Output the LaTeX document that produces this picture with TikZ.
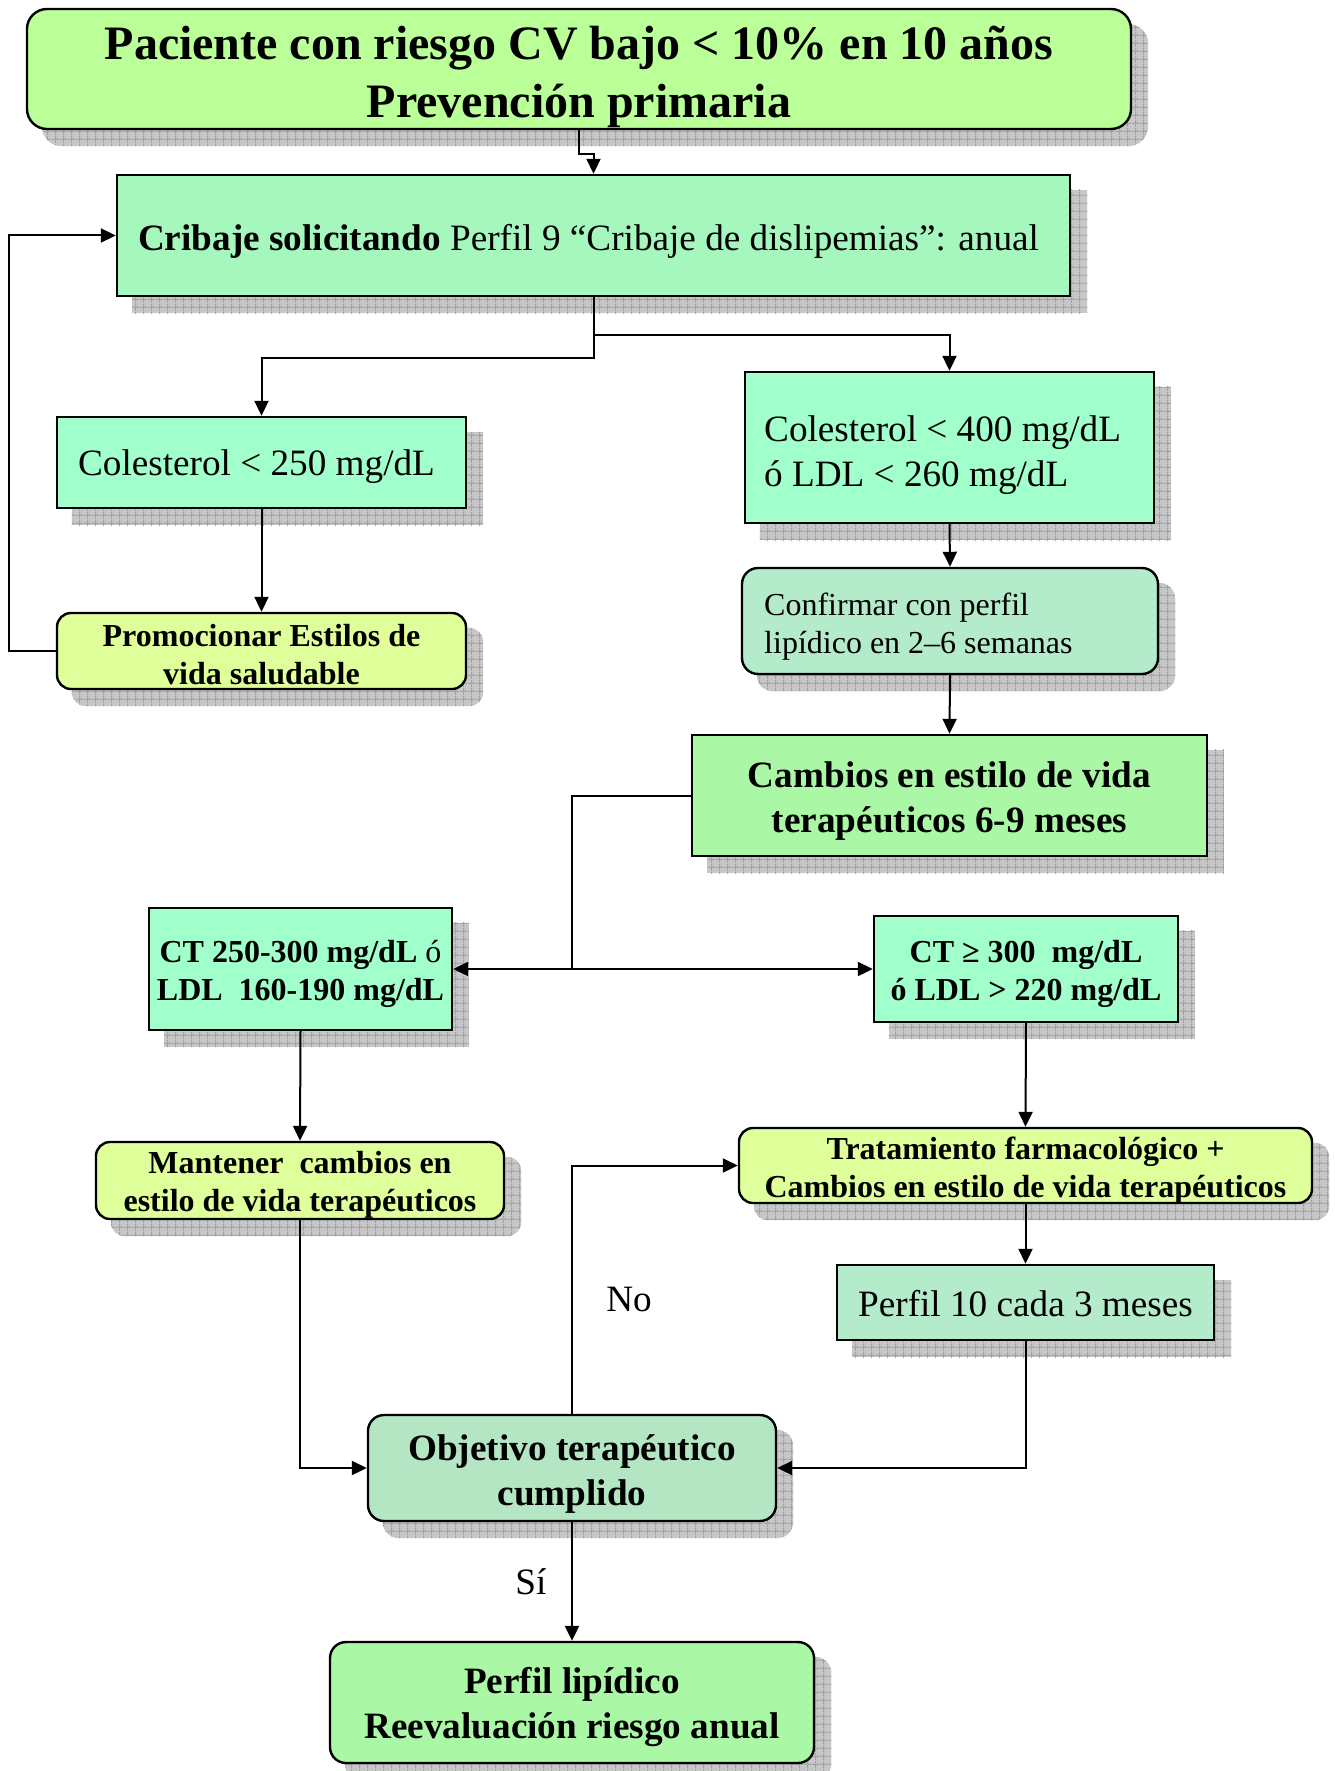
\documentclass[tikz,border=0pt]{standalone}
\usepackage{fontspec}
\setmainfont{Liberation Serif}
\usetikzlibrary{arrows.meta,patterns.meta}
\pgfdeclarelayer{bg}
\pgfsetlayers{bg,main}

% fills
\definecolor{cTitle}{RGB}{187,255,153}
\definecolor{cCrib}{RGB}{166,247,190}
\definecolor{cMint}{RGB}{160,255,202}
\definecolor{cLime}{RGB}{222,255,153}
\definecolor{cPale}{RGB}{179,235,203}
\definecolor{cGreen}{RGB}{170,247,165}
\definecolor{cGoal}{RGB}{181,230,196}

\newcommand\fbig{\fontsize{24}{29}\selectfont\bfseries}
\newcommand\fmid{\fontsize{18.6}{22.5}\selectfont}
\newcommand\fsmall{\fontsize{16}{19}\selectfont}

\tikzset{
  box/.style={draw, line width=1.2pt, inner sep=0pt},
  rbox/.style={box, rounded corners=7pt},
  txt/.style={inner sep=0pt, align=center},
  arr/.style={line width=1pt, -{Triangle[length=7.5pt,width=7pt]}},
  link/.style={line width=1pt},
  shadowfill/.style={preaction={fill=black!22}, pattern={Hatch[angle=0,distance=4pt,line width=0.5pt]}, pattern color=black!36},
  lbl/.style={font=\fmid, inner sep=0pt}
}

\begin{document}
\begin{tikzpicture}[x=0.5pt,y=-0.5pt]
\useasboundingbox (0,0) rectangle (1334,1771);

% boxes
\node[rbox, rounded corners=10pt, fill=cTitle, minimum width=552pt, minimum height=60pt] (title) at (579,69) {};
\node[box, fill=cCrib, minimum width=476.5pt, minimum height=60.5pt] (crib) at (593.5,235.5) {};
\node[box, fill=cMint, minimum width=204.5pt, minimum height=45.5pt] (c250) at (261.5,462.5) {};
\node[rbox, fill=cLime, minimum width=204.5pt, minimum height=38pt] (promo) at (261.5,651) {};
\node[box, fill=cMint, minimum width=204.5pt, minimum height=75.5pt] (c400) at (949.5,447.5) {};
\node[rbox, rounded corners=8pt, fill=cPale, minimum width=208pt, minimum height=53pt] (conf) at (950,621) {};
\node[box, fill=cGreen, minimum width=257.5pt, minimum height=60.5pt] (camb) at (949.5,795.5) {};
\node[box, fill=cMint, minimum width=151.5pt, minimum height=61pt] (ct250) at (300.5,969) {};
\node[box, fill=cMint, minimum width=152pt, minimum height=53pt] (ct300) at (1026,969) {};
\node[rbox, fill=cLime, minimum width=204pt, minimum height=38.5pt] (mant) at (300,1180.5) {};
\node[rbox, fill=cLime, minimum width=286.5pt, minimum height=37.5pt] (trat) at (1025.5,1165.5) {};
\node[box, fill=cPale, minimum width=188.5pt, minimum height=37.5pt] (p10) at (1025.5,1302.5) {};
\node[rbox, rounded corners=8pt, fill=cGoal, minimum width=204pt, minimum height=53pt] (obj) at (572,1468) {};
\node[rbox, rounded corners=8pt, fill=cGreen, minimum width=242pt, minimum height=60.5pt] (plip) at (572,1702.5) {};

% box texts
\node[txt, font=\fbig] (titleT) at ([yshift=-4pt]title.center)
  {Paciente con riesgo CV bajo < 10\% en 10 años\\Prevención primaria};
\node[txt, font=\fmid] (cribT) at ([xshift=-2.5pt,yshift=-2.8pt]crib.center)
  {\textbf{Cribaje solicitando} Perfil 9 “Cribaje de dislipemias”: anual};
\node[txt, font=\fmid] (c250T) at ([xshift=-2.5pt,yshift=-2.3pt]c250.center)
  {Colesterol < 250 mg/dL};
\node[txt, font=\fsmall\bfseries] (promoT) at ([yshift=-1.8pt]promo.center)
  {Promocionar Estilos de\\vida saludable};
\node[txt, align=left, anchor=west, font=\fmid] (c400T) at ([xshift=10pt,yshift=-3.8pt]c400.west)
  {Colesterol < 400 mg/dL\\ó LDL < 260 mg/dL};
\node[txt, align=left, anchor=west, font=\fsmall] (confT) at ([xshift=11.5pt,yshift=-3pt]conf.west)
  {Confirmar con perfil\\lipídico en 2–6 semanas};
\node[txt, font=\fmid\bfseries] (cambT) at ([yshift=-2.8pt]camb.center)
  {Cambios en estilo de vida\\terapéuticos 6-9 meses};
\node[txt, font=\fsmall\bfseries] (ct250T) at ([yshift=-2.3pt]ct250.center)
  {CT 250-300 mg/dL \textmd{ó}\\LDL\ \ 160-190 mg/dL};
\node[txt, font=\fsmall\bfseries] (ct300T) at ([yshift=-2.3pt]ct300.center)
  {CT ≥ 300\ \ mg/dL\\ó LDL > 220 mg/dL};
\node[txt, font=\fsmall\bfseries] (mantT) at ([yshift=-2.3pt]mant.center)
  {Mantener\ \ cambios en\\estilo de vida terapéuticos};
\node[txt, font=\fsmall\bfseries] (tratT) at ([yshift=-2.8pt]trat.center)
  {Tratamiento farmacológico +\\Cambios en estilo de vida terapéuticos};
\node[txt, font=\fmid] (p10T) at ([yshift=-0.6pt]p10.center)
  {Perfil 10 cada 3 meses};
\node[txt, font=\fmid\bfseries] (objT) at ([yshift=-2.8pt]obj.center)
  {Objetivo terapéutico\\cumplido};
\node[txt, font=\fmid\bfseries] (plipT) at ([yshift=-2.3pt]plip.center)
  {Perfil lipídico\\Reevaluación riesgo anual};

% drop shadows
\begin{pgfonlayer}{bg}
  \foreach \n in {crib,c250,c400,camb,ct250,ct300,p10}
    \path[shadowfill] ([shift={(16,16)}]\n.north west) rectangle ([shift={(16,16)}]\n.south east);
  \foreach \n in {promo,mant,trat}
    \path[shadowfill, rounded corners=7pt] ([shift={(16,16)}]\n.north west) rectangle ([shift={(16,16)}]\n.south east);
  \foreach \n in {conf,obj,plip}
    \path[shadowfill, rounded corners=8pt] ([shift={(16,16)}]\n.north west) rectangle ([shift={(16,16)}]\n.south east);
  \path[shadowfill, rounded corners=10pt] ([shift={(16,16)}]title.north west) rectangle ([shift={(16,16)}]title.south east);
\end{pgfonlayer}

% connectors
\draw[arr] (title.south) -- ++(0,24) -| (crib.north);
\draw[arr] (crib.south) -- ++(0,61) -| (c250.north);
\draw[arr] (crib.south) -- ++(0,38) -| (c400.north);
\draw[arr] (c250.south) -- (promo.north);
\coordinate (loopL) at (9,651);
\draw[arr] (promo.west) -- (loopL) |- (crib.west);
\draw[arr] (c400.south) -- (conf.north);
\draw[arr] (conf.south) -- (camb.north);
\coordinate (split) at (572,969);
\draw[link] (camb.west) -| (split);
\draw[arr] (split) -- (ct250.east);
\draw[arr] (split) -- (ct300.west);
\draw[arr] (ct250.south) -- (mant.north);
\draw[arr] (ct300.south) -- (trat.north);
\draw[arr] (trat.south) -- (p10.north);
\draw[arr] (p10.south) |- (obj.east);
\draw[arr] (mant.south) |- (obj.west);
\draw[arr] (obj.north) |- (trat.west);
\draw[arr] (obj.south) -- (plip.north);

% branch labels
\node[lbl] (yes) at (531,1582) {Sí};
\node[lbl] (no) at (629,1299) {No};
\end{tikzpicture}
\end{document}
